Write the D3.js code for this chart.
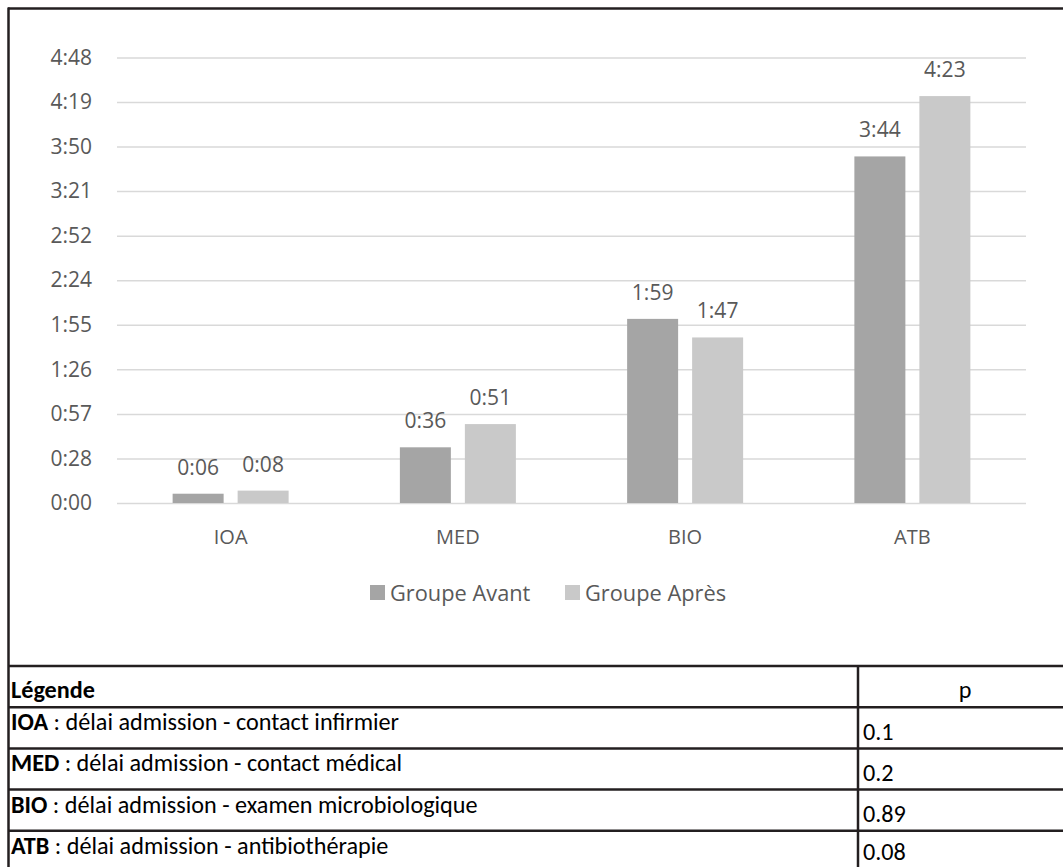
<!DOCTYPE html>
<html>
<head>
<meta charset="utf-8">
<script src="https://cdn.jsdelivr.net/npm/d3@7"></script>
<style>
  html, body { margin: 0; padding: 0; background: #fff; }
  svg { display: block; }
</style>
</head>
<body>
<svg id="chart" width="1063" height="867"></svg>
<script>
// Délais de prise en charge (minutes), avant / après
const categories = ["IOA", "MED", "BIO", "ATB"];
const seriesNames = ["Groupe Avant", "Groupe Après"];
const avantMinutes = [6, 36, 119, 224];
const apresMinutes = [8, 51, 107, 263];
const seriesColors = ["#a5a5a5", "#c9c9c9"];

// Graduations de l'axe (en minutes) et leurs libellés h:mm
const tickMinutes = [0, 28.8, 57.6, 86.4, 115.2, 144, 172.8, 201.6, 230.4, 259.2, 288];
const tickLabels = ["0:00", "0:28", "0:57", "1:26", "1:55", "2:24", "2:52", "3:21", "3:50", "4:19", "4:48"];

// Tableau de légende
const legendCodes = ["IOA", "MED", "BIO", "ATB"];
const legendTexts = [
  "délai admission - contact infirmier",
  "délai admission - contact médical",
  "délai admission - examen microbiologique",
  "délai admission - antibiothérapie"
];
const pValues = ["0.1", "0.2", "0.89", "0.08"];

const svg = d3.select("#chart");
const chartFont = "'Open Sans', 'Noto Sans', sans-serif";
const tableFont = "Carlito, Lato, 'Noto Sans', sans-serif";
const textGrey = "#595959";
const lineDark = "#231f20";

const plot = { left: 117, right: 1026, top: 57.4, bottom: 503 };

const y = d3.scaleLinear().domain([0, 288]).range([plot.bottom, plot.top]);
const x = d3.scaleBand().domain(categories).range([plot.left, plot.right]).padding(0);
const xs = d3.scaleBand().domain(seriesNames).range([-58, 58]).paddingInner(14 / 65).paddingOuter(0);

const fmt = m => {
  const h = Math.floor(m / 60), mm = Math.floor(m % 60);
  return h + ":" + String(mm).padStart(2, "0");
};

// Quadrillage + libellés de l'axe vertical
const yAxis = d3.axisLeft(y)
  .tickValues(tickMinutes)
  .tickFormat((d, i) => tickLabels[i])
  .tickSize(-(plot.right - plot.left))
  .tickPadding(25);

const gy = svg.append("g")
  .attr("transform", `translate(${plot.left},0)`)
  .call(yAxis);
gy.select(".domain").remove();
gy.selectAll(".tick line").attr("stroke", "#d9d9d9").attr("stroke-width", 1.5);
gy.selectAll(".tick text")
  .attr("fill", textGrey)
  .style("font-family", chartFont)
  .style("font-size", "21px");

// Barres
const rows = categories.map((c, i) => ({ cat: c, vals: [avantMinutes[i], apresMinutes[i]] }));
const groups = svg.append("g").selectAll("g")
  .data(rows).join("g")
  .attr("transform", d => `translate(${x(d.cat) + x.bandwidth() / 2},0)`);

groups.selectAll("rect")
  .data(d => d.vals.map((v, j) => ({ s: seriesNames[j], v, j })))
  .join("rect")
  .attr("x", d => xs(d.s))
  .attr("width", xs.bandwidth())
  .attr("y", d => y(d.v))
  .attr("height", d => y(0) - y(d.v))
  .attr("fill", d => seriesColors[d.j]);

// Étiquettes de valeurs
groups.selectAll("text")
  .data(d => d.vals.map((v, j) => ({ s: seriesNames[j], v, j })))
  .join("text")
  .attr("x", d => xs(d.s) + xs.bandwidth() / 2)
  .attr("y", d => y(d.v) - 19)
  .attr("text-anchor", "middle")
  .attr("fill", textGrey)
  .style("font-family", chartFont)
  .style("font-size", "21px")
  .text(d => fmt(d.v));

// Libellés des catégories
const xAxis = d3.axisBottom(x).tickSize(0).tickPadding(0);
const gx = svg.append("g").attr("transform", `translate(0,${plot.bottom})`).call(xAxis);
gx.select(".domain").remove();
gx.selectAll(".tick text")
  .attr("dy", null)
  .attr("y", 41)
  .attr("fill", textGrey)
  .style("font-family", chartFont)
  .style("font-size", "20px");

// Légende des séries
const legendItems = [{ x: 370 }, { x: 565 }];
const lg = svg.append("g").selectAll("g")
  .data(seriesNames).join("g")
  .attr("transform", (d, i) => `translate(${legendItems[i].x},585)`);
lg.append("rect").attr("width", 15).attr("height", 15).attr("fill", (d, i) => seriesColors[i]);
lg.append("text")
  .attr("x", 20).attr("y", 15.5)
  .attr("fill", textGrey)
  .style("font-family", chartFont)
  .style("font-size", "21.8px")
  .text(d => d);

// Cadre
svg.append("line").attr("x1", 8).attr("x2", 1063).attr("y1", 8.5).attr("y2", 8.5)
  .attr("stroke", lineDark).attr("stroke-width", 2.5);
svg.append("line").attr("x1", 8.5).attr("x2", 8.5).attr("y1", 7.5).attr("y2", 867)
  .attr("stroke", lineDark).attr("stroke-width", 2.5);

// Tableau
const tableTop = 666;
const rowH = 41.2;
const colSplit = 858;
const tableSize = "24.2px";
const tg = svg.append("g");
d3.range(5).forEach(i => {
  tg.append("line")
    .attr("x1", 8).attr("x2", 1063)
    .attr("y1", tableTop + i * rowH).attr("y2", tableTop + i * rowH)
    .attr("stroke", lineDark).attr("stroke-width", 2.5);
});
tg.append("line")
  .attr("x1", colSplit).attr("x2", colSplit)
  .attr("y1", tableTop).attr("y2", 867)
  .attr("stroke", lineDark).attr("stroke-width", 2.5);

tg.append("text")
  .attr("x", 11).attr("y", tableTop + rowH - 9)
  .attr("fill", "#000")
  .style("font-family", tableFont).style("font-size", tableSize).style("font-weight", "bold")
  .text("Légende");
tg.append("text")
  .attr("x", 965).attr("y", tableTop + rowH - 9)
  .attr("text-anchor", "middle")
  .attr("fill", "#000")
  .style("font-family", tableFont).style("font-size", tableSize)
  .text("p");

legendCodes.forEach((code, i) => {
  const top = tableTop + (i + 1) * rowH;
  const t = tg.append("text")
    .attr("x", 11).attr("y", top + 23)
    .attr("fill", "#000")
    .style("font-family", tableFont).style("font-size", tableSize);
  t.append("tspan").style("font-weight", "bold").text(code);
  t.append("tspan").text(" : " + legendTexts[i]);
  tg.append("text")
    .attr("x", 863).attr("y", Math.min(top + rowH - 8.5, 860))
    .attr("fill", "#000")
    .style("font-family", tableFont).style("font-size", tableSize)
    .text(pValues[i]);
});
</script>
</body>
</html>
